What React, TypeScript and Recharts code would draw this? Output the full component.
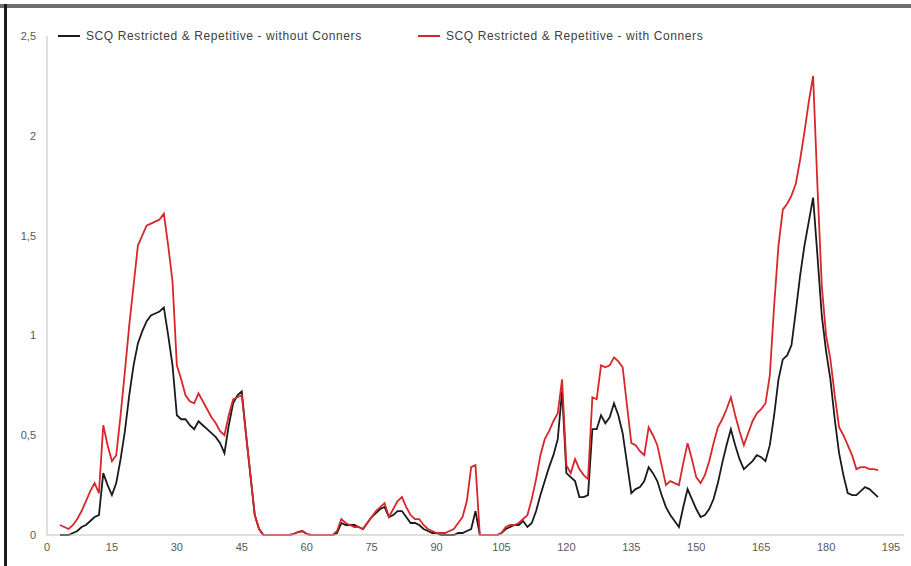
import { CartesianGrid, Legend, Line, LineChart, XAxis, YAxis } from "recharts";

// x categories (1..)
const xs: number[] = [];
for (let i = 3; i <= 192; i++) xs.push(i);

const withoutConners = [
  0, 0, 0, 0.01, 0.02, 0.04, 0.05, 0.07, 0.09, 0.1, // 3-12
  0.31, 0.25, 0.2, 0.26, 0.38, 0.52, 0.7, 0.85, 0.96, 1.02, // 13-22
  1.07, 1.1, 1.11, 1.12, 1.14, 1.0, 0.85, 0.6, 0.58, 0.58, // 23-32
  0.55, 0.53, 0.57, 0.55, 0.53, 0.51, 0.49, 0.46, 0.41, 0.55, // 33-42
  0.66, 0.7, 0.72, 0.5, 0.3, 0.1, 0.03, 0, 0, 0, // 43-52
  0, 0, 0, 0, 0.005, 0.015, 0.02, 0.005, 0, 0, // 53-62
  0, 0, 0, 0, 0.01, 0.06, 0.05, 0.05, 0.05, 0.04, // 63-72
  0.03, 0.06, 0.09, 0.11, 0.13, 0.14, 0.09, 0.1, 0.12, 0.12, // 73-82
  0.09, 0.06, 0.06, 0.05, 0.03, 0.02, 0.01, 0.01, 0, 0, // 83-92
  0, 0, 0.01, 0.01, 0.02, 0.03, 0.12, 0, 0, 0, // 93-102
  0, 0, 0.01, 0.03, 0.04, 0.05, 0.05, 0.07, 0.04, 0.06, // 103-112
  0.12, 0.2, 0.27, 0.34, 0.4, 0.48, 0.72, 0.31, 0.29, 0.27, // 113-122
  0.19, 0.19, 0.2, 0.53, 0.53, 0.6, 0.56, 0.59, 0.66, 0.6, // 123-132
  0.51, 0.36, 0.21, 0.23, 0.24, 0.27, 0.34, 0.31, 0.27, 0.2, // 133-142
  0.14, 0.1, 0.07, 0.04, 0.14, 0.23, 0.18, 0.13, 0.09, 0.1, // 143-152
  0.13, 0.18, 0.26, 0.36, 0.45, 0.53, 0.45, 0.38, 0.33, 0.35, // 153-162
  0.37, 0.4, 0.39, 0.37, 0.45, 0.6, 0.78, 0.88, 0.9, 0.95, // 163-172
  1.12, 1.3, 1.45, 1.57, 1.69, 1.4, 1.1, 0.92, 0.78, 0.58, // 173-182
  0.41, 0.3, 0.21, 0.2, 0.2, 0.22, 0.24, 0.23, 0.21, 0.19, // 183-192
];

const withConners = [
  0.05, 0.04, 0.03, 0.05, 0.08, 0.12, 0.17, 0.22, 0.26, 0.21, // 3-12
  0.55, 0.45, 0.37, 0.4, 0.6, 0.82, 1.05, 1.25, 1.45, 1.5, // 13-22
  1.55, 1.56, 1.57, 1.58, 1.61, 1.45, 1.27, 0.85, 0.78, 0.7, // 23-32
  0.67, 0.66, 0.71, 0.67, 0.63, 0.59, 0.56, 0.52, 0.5, 0.6, // 33-42
  0.68, 0.69, 0.7, 0.5, 0.3, 0.1, 0.03, 0, 0, 0, // 43-52
  0, 0, 0, 0, 0.005, 0.015, 0.02, 0.005, 0, 0, // 53-62
  0, 0, 0, 0, 0.02, 0.08, 0.06, 0.05, 0.04, 0.04, // 63-72
  0.03, 0.06, 0.09, 0.12, 0.14, 0.16, 0.09, 0.13, 0.17, 0.19, // 73-82
  0.14, 0.1, 0.08, 0.08, 0.05, 0.03, 0.02, 0.01, 0.01, 0.01, // 83-92
  0.02, 0.03, 0.06, 0.09, 0.17, 0.34, 0.35, 0, 0, 0, // 93-102
  0, 0, 0.01, 0.04, 0.05, 0.05, 0.06, 0.08, 0.1, 0.18, // 103-112
  0.28, 0.4, 0.48, 0.52, 0.57, 0.61, 0.78, 0.35, 0.31, 0.38, // 113-122
  0.33, 0.3, 0.28, 0.69, 0.68, 0.85, 0.84, 0.85, 0.89, 0.87, // 123-132
  0.84, 0.65, 0.46, 0.45, 0.42, 0.4, 0.54, 0.5, 0.45, 0.35, // 133-142
  0.25, 0.27, 0.26, 0.25, 0.36, 0.46, 0.38, 0.29, 0.26, 0.3, // 143-152
  0.37, 0.46, 0.54, 0.58, 0.63, 0.69, 0.6, 0.52, 0.45, 0.51, // 153-162
  0.57, 0.61, 0.63, 0.66, 0.8, 1.15, 1.45, 1.63, 1.66, 1.7, // 163-172
  1.76, 1.88, 2.02, 2.17, 2.3, 1.75, 1.25, 1.0, 0.88, 0.7, // 173-182
  0.54, 0.5, 0.45, 0.4, 0.33, 0.34, 0.34, 0.33, 0.33, 0.325, // 183-192
];

const xTicks = [0, 15, 30, 45, 60, 75, 90, 105, 120, 135, 150, 165, 180, 195];
const yTicks = [0, 0.5, 1, 1.5, 2, 2.5];

const LABEL_BLACK = "SCQ Restricted & Repetitive - without Conners";
const LABEL_RED = "SCQ Restricted & Repetitive - with Conners";

const data = xs.map((x, i) => ({
  x,
  without: withoutConners[i],
  with: withConners[i],
}));

const FONT = "'Liberation Sans', Arial, sans-serif";

function ChartLegend() {
  const item = (left: number, color: string, text: string) => (
    <div
      style={{
        position: "absolute",
        left,
        top: 0,
        display: "flex",
        alignItems: "center",
        whiteSpace: "nowrap",
      }}
    >
      <span
        style={{ display: "inline-block", width: 22, height: 2, background: color, marginRight: 6 }}
      />
      <span style={{ fontSize: 12, letterSpacing: 0.6, color: "#404040", fontFamily: FONT }}>{text}</span>
    </div>
  );
  return (
    <div style={{ position: "relative", width: 800, height: 16 }}>
      {item(0, "#1a1a1a", LABEL_BLACK)}
      {item(360, "#d9262b", LABEL_RED)}
    </div>
  );
}

export default function App() {
  return (
    <div
      style={{
        position: "absolute",
        left: 0,
        top: 0,
        width: 911,
        height: 566,
        background: "#fff",
        overflow: "hidden",
      }}
    >
      {/* frame edges of the original screenshot */}
      <div style={{ position: "absolute", left: 0, top: 4, width: 911, height: 4, background: "#6e6e6e" }} />
      <div style={{ position: "absolute", left: 4, top: 4, width: 3, height: 562, background: "#1c1c1c" }} />
      <div style={{ position: "absolute", left: 0, top: 0 }}>
        <LineChart
          width={911}
          height={566}
          data={data}
          margin={{ top: 20, right: 7, left: 0, bottom: 6 }}
        >
          <CartesianGrid stroke="none" />
          <XAxis
            dataKey="x"
            type="number"
            domain={[0, 198]}
            ticks={xTicks}
            interval={0}
            tickLine={false}
            axisLine={{ stroke: "#bfbfbf" }}
            tick={{ fontSize: 11, fill: "#595959", fontFamily: FONT }}
            height={25}
          />
          <YAxis
            type="number"
            domain={[0, 2.5]}
            ticks={yTicks}
            width={47}
            tickLine={false}
            tickMargin={5}
            axisLine={{ stroke: "#bfbfbf" }}
            tick={{ fontSize: 11, fill: "#595959", fontFamily: FONT }}
            tickFormatter={(v: number) => String(v).replace(".", ",")}
          />
          <Legend
            verticalAlign="top"
            align="left"
            content={() => <ChartLegend />}
            wrapperStyle={{ left: 58, top: 29, width: 800 }}
          />
          <Line
            type="linear"
            dataKey="without"
            name={LABEL_BLACK}
            stroke="#1a1a1a"
            strokeWidth={1.8}
            dot={false}
            isAnimationActive={false}
          />
          <Line
            type="linear"
            dataKey="with"
            name={LABEL_RED}
            stroke="#d9262b"
            strokeWidth={1.8}
            dot={false}
            isAnimationActive={false}
          />
        </LineChart>
      </div>
    </div>
  );
}
